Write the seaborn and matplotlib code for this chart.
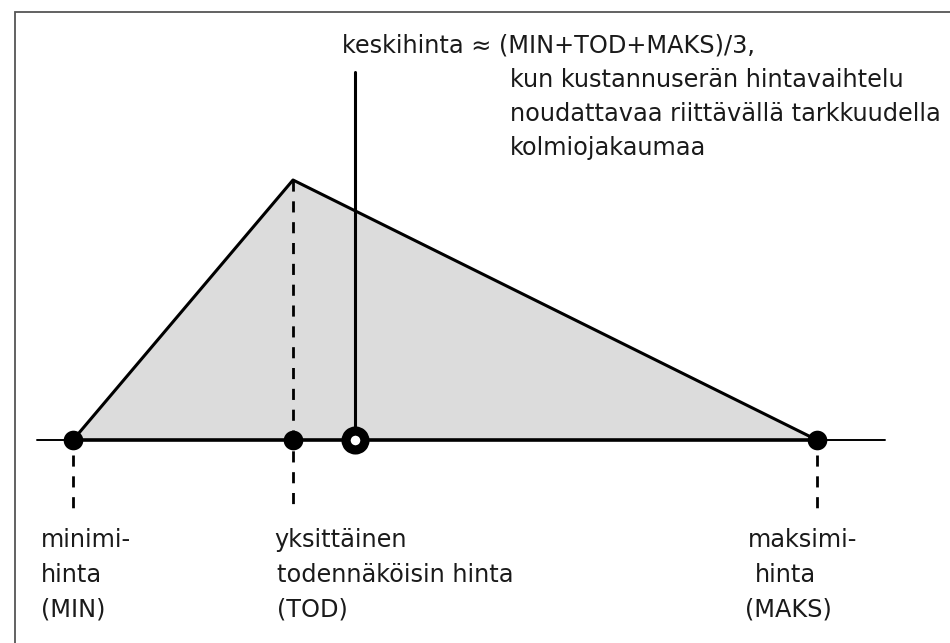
import numpy as np
import pandas as pd
import seaborn as sns
import matplotlib.pyplot as plt
from matplotlib.patches import Rectangle

# prices on a horizontal scale, height of density at the mode
hinnat = ['MIN', 'TOD', 'MAKS']
hinta_x = [73, 293, 817]
tiheys = [0, 260, 0]
keskihinta_x = 355

otsikko = ['keskihinta ≈ (MIN+TOD+MAKS)/3,',
           'kun kustannuserän hintavaihtelu',
           'noudattavaa riittävällä tarkkuudella',
           'kolmiojakaumaa']
alaotsikot = [['minimi-', 'hinta', '(MIN)'],
              ['yksittäinen', 'todennäköisin hinta', '(TOD)'],
              ['maksimi-', 'hinta', '(MAKS)']]
ala_x = [[41, 41, 41], [274, 277, 277], [748, 755, 745]]

sns.set_style('white')
plt.rcParams['font.family'] = ['DejaVu Sans']
FS = 17.3
TXT = '#1a1a1a'

fig = plt.figure(figsize=(9.5, 6.43), dpi=100)
ax = fig.add_axes([0, 0, 1, 1])
ax.set_xlim(0, 950)
ax.set_ylim(-203, 440)   # baseline at y=0, pixel 440 from top
ax.axis('off')

base = 0
df = pd.DataFrame({'x': hinta_x, 'y': tiheys, 'nimi': hinnat})

# frame
ax.add_patch(Rectangle((15, -240), 960, 668, fill=False, ec='#555555', lw=1.3, clip_on=False))

# baseline
ax.plot([37, 885], [base, base], color='black', lw=1.4, zorder=2)

# triangle
ax.fill_between(df['x'], df['y'], base, color='#dcdcdc', zorder=1)
sns.lineplot(data=df, x='x', y='y', sort=False, color='black', lw=2.2, ax=ax, zorder=3)
ax.plot([hinta_x[0], hinta_x[2]], [base, base], color='black', lw=2.6, zorder=3)

# dashed guides
dash = (0, (4, 3.5))
ax.plot([hinta_x[0]] * 2, [-15, -72], color='black', lw=2, ls=dash, zorder=2)
ax.plot([hinta_x[1]] * 2, [tiheys[1], -72], color='black', lw=2, ls=dash, zorder=2)
ax.plot([hinta_x[2]] * 2, [-15, -75], color='black', lw=2, ls=dash, zorder=2)

# points
sns.scatterplot(data=df, x='x', y=[base] * 3, color='black', s=200, linewidth=0,
                ax=ax, zorder=5, legend=False)

# mean marker and pointer
ax.plot([keskihinta_x, keskihinta_x], [base, 368], color='black', lw=2.2, zorder=4)
ax.scatter([keskihinta_x], [base], s=185, facecolor='white', edgecolor='black',
           linewidth=6.6, zorder=6)

# texts
ax.text(342, 440 - 46, otsikko[0], fontsize=FS, color=TXT, va='center', ha='left')
for i, rivi in enumerate(otsikko[1:]):
    ax.text(510, 440 - (80 + 34 * i), rivi, fontsize=FS, color=TXT, va='center', ha='left')

for rivit, xs in zip(alaotsikot, ala_x):
    for j, (t, x) in enumerate(zip(rivit, xs)):
        ax.text(x, 440 - (540 + 35 * j), t, fontsize=FS, color=TXT, va='center', ha='left')

ax.set_xlabel('')
ax.set_ylabel('')
fig.savefig('out.png', dpi=100)
